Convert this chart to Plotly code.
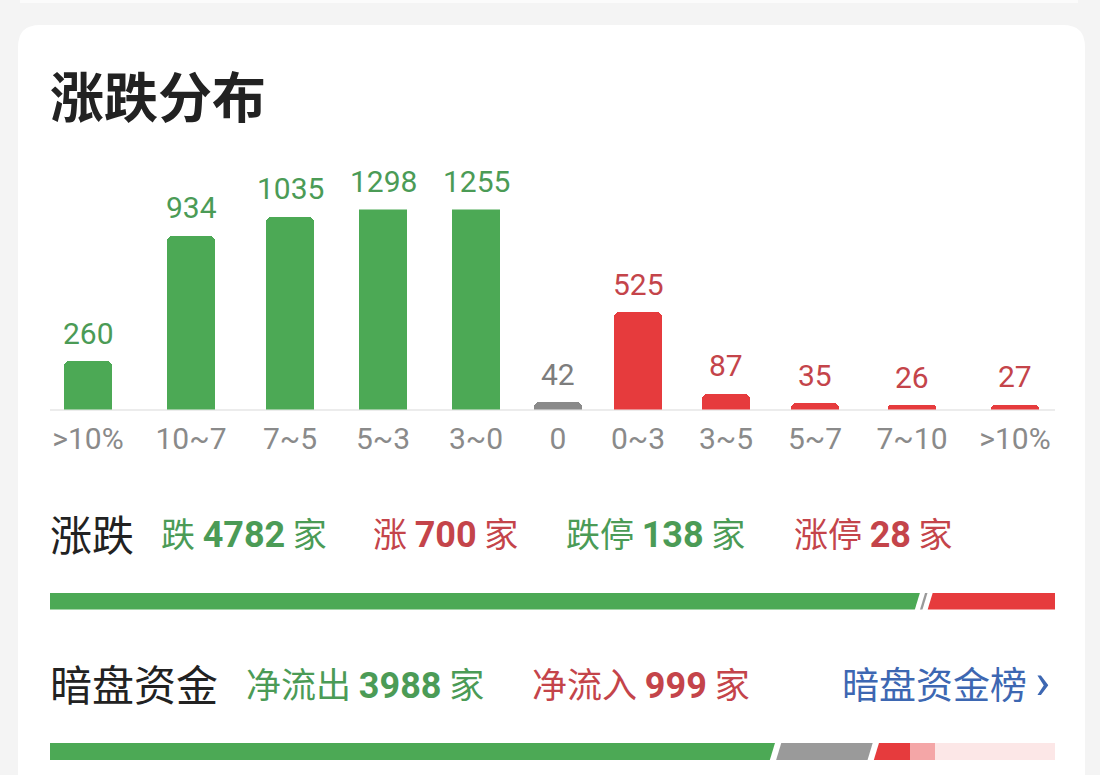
import plotly.graph_objects as go

W, H = 1100, 775


def fx(x):
    return x / W


def fy(y):
    return 1 - y / H


# ---------------- data ----------------
categories = [">10%", "10~7", "7~5", "5~3", "3~0", "0", "0~3", "3~5", "5~7", "7~10", ">10%"]
counts = [260, 934, 1035, 1298, 1255, 42, 525, 87, 35, 26, 27]
groups = ["down", "down", "down", "down", "down", "flat", "up", "up", "up", "up", "up"]

fall_total = 4782
rise_total = 700
flat_total = 42
limit_down = 138
limit_up = 28

dark_out = 3988
dark_other = 537
dark_in = 999

# ---------------- layout helpers (positions / styles) ----------------
slot_centers = [88, 191, 290, 383, 476, 558, 638, 726, 815, 912, 1015]
bar_px = 48
y_cap = 1072

GREEN_BAR = "#4ca955"
RED_BAR = "#e63b3d"
GRAY_BAR = "#8a8a8a"
GREEN_TXT = "#4b9b56"
RED_TXT = "#c4444a"
GRAY_TXT = "#7d7d7d"
PROG_GRAY = "#9a9a9a"

bar_col = {"down": GREEN_BAR, "flat": GRAY_BAR, "up": RED_BAR}
txt_col = {"down": GREEN_TXT, "flat": GRAY_TXT, "up": RED_TXT}

NUM_FONT = "Roboto, 'Noto Sans CJK SC'"
CJK_FONT = "'Noto Sans CJK SC', Roboto"

fig = go.Figure()

# distribution bars
fig.add_trace(go.Bar(
    x=slot_centers, y=counts, width=bar_px,
    marker=dict(color=[bar_col[g] for g in groups], cornerradius=6, line=dict(width=0)),
    xaxis="x", yaxis="y", hoverinfo="skip", showlegend=False,
))

annotations = []
for xc, v, g in zip(slot_centers, counts, groups):
    annotations.append(dict(
        x=xc, y=min(v, y_cap), xref="x", yref="y", text=str(v), showarrow=False,
        yanchor="bottom", yshift=8,
        font=dict(family=NUM_FONT, size=30, color=txt_col[g]),
    ))

# progress bar 1: fall / flat / rise
prog1 = [(fall_total, GREEN_BAR), (flat_total, PROG_GRAY), (rise_total, RED_BAR)]
for v, c in prog1:
    fig.add_trace(go.Bar(x=[v], y=[0], orientation="h", width=1, marker=dict(color=c, line=dict(width=0)),
                         xaxis="x2", yaxis="y2", hoverinfo="skip", showlegend=False))
# progress bar 2: out / other / in
prog2 = [(dark_out, GREEN_BAR), (dark_other, PROG_GRAY), (dark_in, RED_BAR)]
for v, c in prog2:
    fig.add_trace(go.Bar(x=[v], y=[0], orientation="h", width=1, marker=dict(color=c, line=dict(width=0)),
                         xaxis="x3", yaxis="y3", hoverinfo="skip", showlegend=False))

shapes = []
# card background
l, t, r, b, rad = 18, 25, 1085, 820, 22
path = (f"M {fx(l)},{fy(t + rad)} Q {fx(l)},{fy(t)} {fx(l + rad)},{fy(t)} "
        f"L {fx(r - rad)},{fy(t)} Q {fx(r)},{fy(t)} {fx(r)},{fy(t + rad)} "
        f"L {fx(r)},{fy(b)} L {fx(l)},{fy(b)} Z")
shapes.append(dict(type="path", xref="paper", yref="paper", path=path,
                   fillcolor="white", line=dict(width=0), layer="below"))
shapes.append(dict(type="rect", xref="paper", yref="paper", x0=fx(20), x1=fx(1078), y0=fy(3), y1=fy(0),
                   fillcolor="#fbfbfb", line=dict(width=0), layer="below"))
# baseline of distribution chart
shapes.append(dict(type="line", xref="paper", yref="paper", x0=fx(50), x1=fx(1055), y0=fy(410), y1=fy(410),
                   line=dict(color="#ececec", width=2), layer="below"))


def gaps(vals, xr, yr, w):
    acc = 0
    out = []
    for v, _ in vals[:-1]:
        acc += v
        out.append(dict(type="line", xref=xr, yref=yr + " domain", xsizemode="pixel", xanchor=acc,
                        x0=3.6, x1=-3.6, y0=1.2, y1=-0.2, line=dict(color="white", width=w)))
    return out


shapes += gaps(prog1, "x2", "y2", 5)
shapes += gaps(prog2, "x3", "y3", 6)

# faded watermark region over bar 2
shapes.append(dict(type="rect", xref="paper", yref="paper", x0=fx(910), x1=fx(935), y0=fy(770), y1=fy(735),
                   fillcolor="rgba(255,255,255,0.55)", line=dict(width=0)))
shapes.append(dict(type="rect", xref="paper", yref="paper", x0=fx(935), x1=fx(1084), y0=fy(770), y1=fy(735),
                   fillcolor="rgba(255,255,255,0.88)", line=dict(width=0)))


def txt(x, y, s, size, color, family=CJK_FONT, anchor="left", weight="normal"):
    annotations.append(dict(x=fx(x), y=fy(y), xref="paper", yref="paper", text=s, showarrow=False,
                            xanchor=anchor, yanchor="middle",
                            font=dict(family=family, size=size, color=color, weight=weight)))


def num(n):
    return f"<span style='font-size:36px;font-family:Roboto'><b>{n}</b></span>"


txt(48, 95, "涨跌分布", 54, "#222222", weight="bold")

txt(48, 532, "涨跌", 42, "#222222")
txt(159, 532, f"跌 {num(fall_total)} 家", 34, GREEN_TXT)
txt(371, 532, f"涨 {num(rise_total)} 家", 34, RED_TXT)
txt(564, 532, f"跌停 {num(limit_down)} 家", 34, GREEN_TXT)
txt(792, 532, f"涨停 {num(limit_up)} 家", 34, RED_TXT)

txt(48, 682, "暗盘资金", 42, "#222222")
txt(244, 682, f"净流出 {num(dark_out)} 家", 35, GREEN_TXT)
txt(530, 682, f"净流入 {num(dark_in)} 家", 35, RED_TXT)
txt(1052, 682, "暗盘资金榜 <span style='font-family:Roboto;font-size:50px'>›</span>", 37, "#3d67b2",
    anchor="right")

fig.update_layout(
    width=W, height=H,
    margin=dict(l=0, r=0, t=0, b=0),
    paper_bgcolor="#f4f4f4", plot_bgcolor="rgba(0,0,0,0)",
    barmode="stack", bargap=0,
    showlegend=False,
    xaxis=dict(domain=[0, 1], range=[0, W], tickvals=slot_centers, ticktext=categories,
               showgrid=False, zeroline=False, showline=False, ticks="", ticklabelstandoff=8,
               tickfont=dict(family=NUM_FONT, size=30, color="#8a8a8a"), fixedrange=True),
    yaxis=dict(domain=[fy(409.5), fy(209.5)], range=[0, y_cap], visible=False, fixedrange=True),
    xaxis2=dict(domain=[fx(50), fx(1055)], range=[0, fall_total + flat_total + rise_total], visible=False,
                anchor="y2"),
    yaxis2=dict(domain=[fy(609.5), fy(592.5)], range=[-0.5, 0.5], visible=False, anchor="x2"),
    xaxis3=dict(domain=[fx(50), fx(1055)], range=[0, dark_out + dark_other + dark_in], visible=False,
                anchor="y3"),
    yaxis3=dict(domain=[fy(760), fy(743)], range=[-0.5, 0.5], visible=False, anchor="x3"),
    shapes=shapes,
    annotations=annotations,
)

fig.write_html("out.html")
